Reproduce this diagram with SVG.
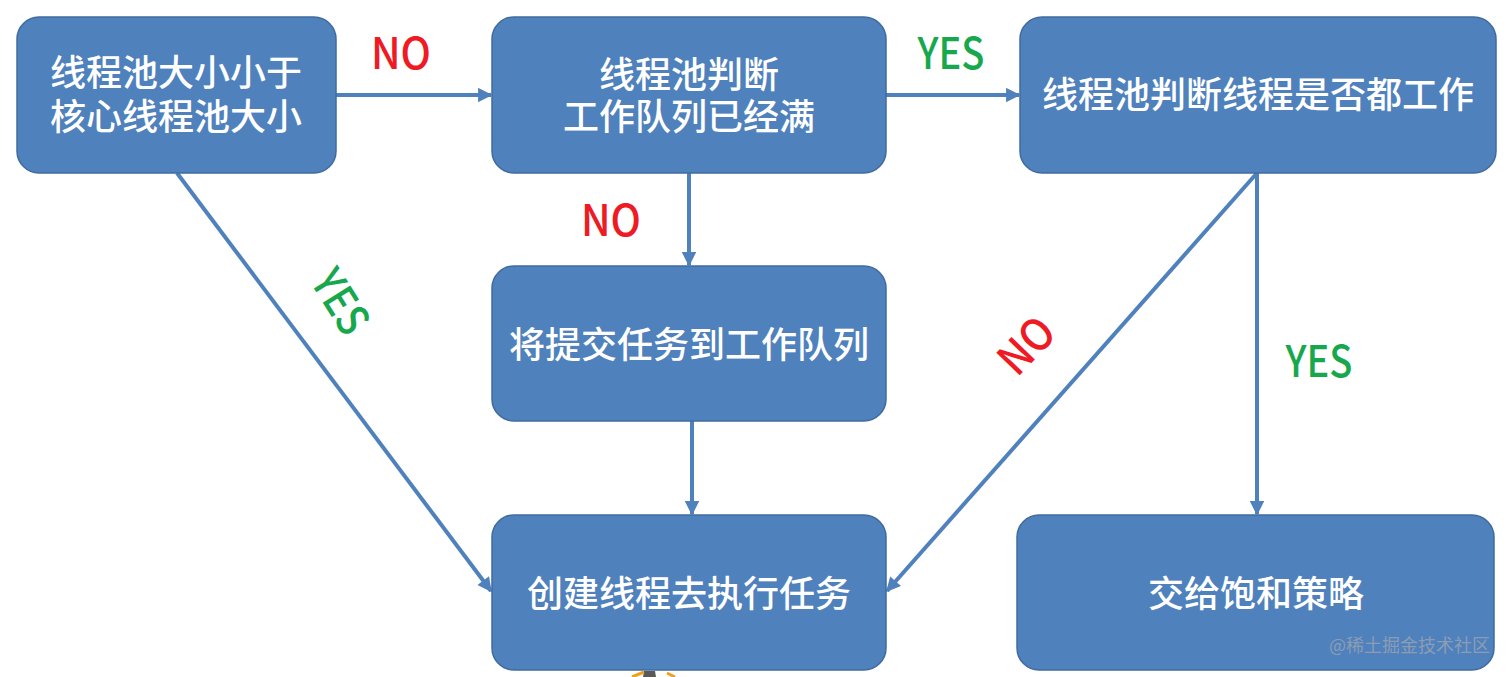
<svg xmlns="http://www.w3.org/2000/svg" width="1512" height="677" viewBox="0 0 1512 677">
<defs>
<style>
.node{fill:#4F81BD;stroke:#3F6C9E;stroke-width:1.5}
.nt{font-family:"Noto Sans CJK SC","Noto Sans",sans-serif;font-size:36px;font-weight:500;fill:#FFFFFF;text-anchor:middle}
.conn{stroke:#4F81BD;stroke-width:4;fill:none;marker-end:url(#ah)}
.lbl{font-family:"Noto Sans CJK SC","Noto Sans",sans-serif;font-size:44px;font-weight:500;text-anchor:middle}
.no{fill:#EE1B24}
.yes{fill:#17A84D}
.wm{font-family:"Noto Sans CJK SC",sans-serif;font-size:18px;fill:#8C9DB3;text-anchor:end}
</style>
<marker id="ah" viewBox="0 0 10 10" refX="9" refY="5" markerWidth="4" markerHeight="3.6" orient="auto" markerUnits="strokeWidth">
<path d="M0,0 L10,5 L0,10 Z" fill="#4F81BD"/>
</marker>
</defs>
<rect width="1512" height="677" fill="#FFFFFF"/>
<g id="connectors">
<line class="conn" x1="336" y1="95" x2="491" y2="95"/>
<line class="conn" x1="886" y1="95" x2="1019" y2="95"/>
<line class="conn" x1="689" y1="173" x2="689" y2="265"/>
<line class="conn" x1="692" y1="421" x2="692" y2="514"/>
<line class="conn" x1="177" y1="173" x2="491" y2="591"/>
<line class="conn" x1="1257" y1="173" x2="887" y2="591"/>
<line class="conn" x1="1257" y1="173" x2="1257" y2="514"/>
</g>
<g id="labels">
<text class="lbl no" x="401" y="69" textLength="60" lengthAdjust="spacingAndGlyphs">NO</text>
<text class="lbl yes" x="951" y="69" textLength="67" lengthAdjust="spacingAndGlyphs">YES</text>
<text class="lbl no" x="611" y="236" textLength="60" lengthAdjust="spacingAndGlyphs">NO</text>
<text class="lbl yes" x="1319" y="377" textLength="67" lengthAdjust="spacingAndGlyphs">YES</text>
<text class="lbl yes" transform="translate(340,302) rotate(58)" x="0" y="15" textLength="67" lengthAdjust="spacingAndGlyphs">YES</text>
<text class="lbl no" transform="translate(1027,346) rotate(-46)" x="0" y="15" textLength="60" lengthAdjust="spacingAndGlyphs">NO</text>
</g>
<g id="n1">
<rect class="node" x="17" y="17" width="319" height="156" rx="22"/>
<text class="nt" x="176" y="86">线程池大小小于</text>
<text class="nt" x="176" y="130">核心线程池大小</text>
</g>
<g id="n2">
<rect class="node" x="492" y="17" width="394" height="156" rx="22"/>
<text class="nt" x="689" y="88">线程池判断</text>
<text class="nt" x="689" y="130">工作队列已经满</text>
</g>
<g id="n3">
<rect class="node" x="1020" y="17" width="476" height="156" rx="22"/>
<text class="nt" x="1258" y="108">线程池判断线程是否都工作</text>
</g>
<g id="n4">
<rect class="node" x="492" y="266" width="394" height="155" rx="22"/>
<text class="nt" x="689" y="358">将提交任务到工作队列</text>
</g>
<g id="n5">
<rect class="node" x="492" y="515" width="394" height="155" rx="22"/>
<text class="nt" x="689" y="607">创建线程去执行任务</text>
</g>
<g id="n6">
<rect class="node" x="1017" y="515" width="477" height="155" rx="22"/>
<text class="nt" x="1256" y="607">交给饱和策略</text>
<text class="wm" x="1490" y="652">@稀土掘金技术社区</text>
</g>
<g id="fragment">
<path d="M644,671 L655,671 L656,677 L643,677 Z" fill="#5A5A5A"/>
<path d="M632,677 L644,672" stroke="#F0A020" stroke-width="3"/>
<path d="M667,673 L675,677" stroke="#F0A020" stroke-width="3"/>
</g>
</svg>
